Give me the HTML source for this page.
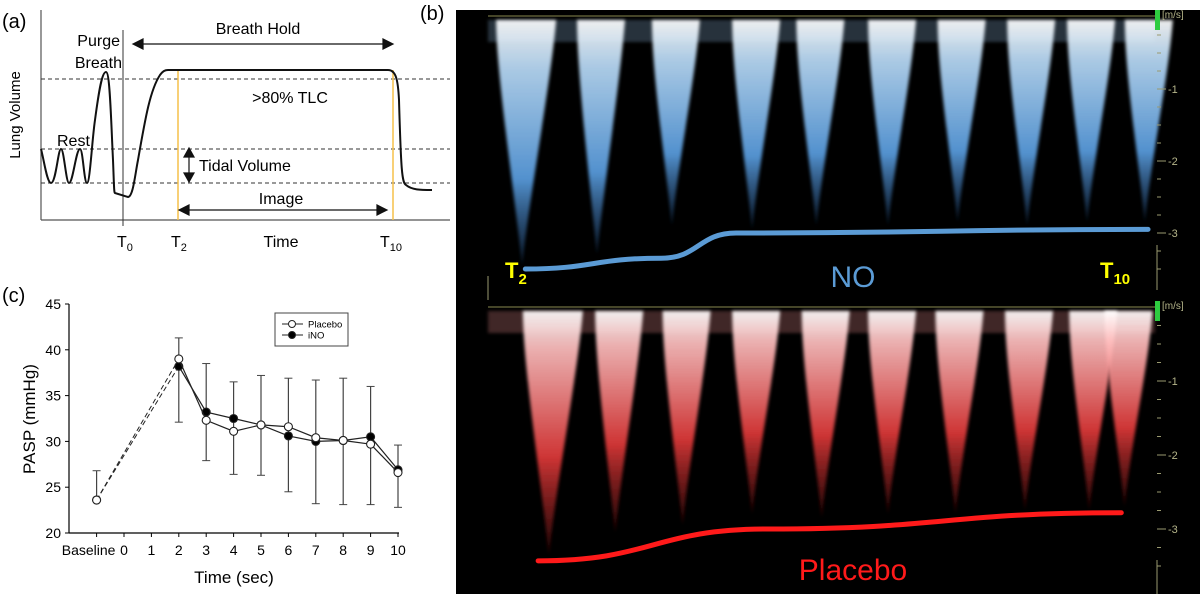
<!DOCTYPE html>
<html><head><meta charset="utf-8"><style>
html,body{margin:0;padding:0;background:#fff;}
svg{display:block;font-family:"Liberation Sans",sans-serif;}
</style></head><body>
<svg id="fig" width="1200" height="594" viewBox="0 0 1200 594">
<defs>
<linearGradient id="gb" x1="0" y1="0" x2="0" y2="1">
<stop offset="0" stop-color="#ffffff"/><stop offset="0.2" stop-color="#b9dbf8"/><stop offset="0.65" stop-color="#5a9ee0"/><stop offset="1" stop-color="#1c3d66" stop-opacity="0.5"/></linearGradient>
<linearGradient id="gr" x1="0" y1="0" x2="0" y2="1">
<stop offset="0" stop-color="#ffffff"/><stop offset="0.15" stop-color="#ffc0c0"/><stop offset="0.6" stop-color="#e03a3a"/><stop offset="1" stop-color="#601010" stop-opacity="0.5"/></linearGradient>
<filter id="blur"><feGaussianBlur stdDeviation="1.5"/></filter>
</defs>

<g>
<text x="2" y="28" font-size="20">(a)</text>
<line x1="41" y1="10" x2="41" y2="220" stroke="#555" stroke-width="1.2"/>
<line x1="41" y1="220" x2="450" y2="220" stroke="#555" stroke-width="1.2"/>
<text transform="translate(20,115) rotate(-90)" text-anchor="middle" font-size="15">Lung Volume</text>
<g stroke="#333" stroke-dasharray="4,3" stroke-width="1">
<line x1="41" y1="79" x2="450" y2="79"/><line x1="41" y1="149" x2="450" y2="149"/><line x1="41" y1="183" x2="450" y2="183"/></g>
<line x1="178" y1="70" x2="178" y2="220" stroke="#f5c04a" stroke-width="1.5"/>
<line x1="393" y1="70" x2="393" y2="220" stroke="#f5c04a" stroke-width="1.5"/>
<line x1="123" y1="30" x2="123" y2="226" stroke="#333" stroke-width="1"/>
<path d="M41,149 C44,160 47,183 51,183 C56,183 58,149 61,149 C64,149 66,183 69,183 C73,183 76,149 80,149 C83,149 84,183 87,183 C90,183 92,140 95,120 C99,90 102,72 106,72 C110,72 111,120 113,160 C114,185 114,193 115,193 L128,197 C133,197 135,175 138,160 C145,120 150,90 160,75 C163,71 165,70 168,70 L388,70 C396,70 398,80 399,100 C401,170 402,183 406,185 C412,190 420,190 432,190" fill="none" stroke="#111" stroke-width="2"/>
<g stroke="#111" stroke-width="1.2" fill="#111">
<line x1="140" y1="44" x2="388" y2="44"/><path d="M133,44 l10,-5 v10z"/><path d="M393,44 l-10,-5 v10z"/></g>
<text x="258" y="34" text-anchor="middle" font-size="16">Breath Hold</text>
<text x="120" y="46" text-anchor="end" font-size="16">Purge</text>
<text x="122" y="68" text-anchor="end" font-size="16">Breath</text>
<text x="57" y="146" font-size="16">Rest</text>
<text x="290" y="103" text-anchor="middle" font-size="16">&gt;80% TLC</text>
<g stroke="#111" stroke-width="1.2" fill="#111">
<line x1="189" y1="154" x2="189" y2="176"/><path d="M189,148 l-5,9 h10z"/><path d="M189,182 l-5,-9 h10z"/></g>
<text x="199" y="171" font-size="16">Tidal Volume</text>
<g stroke="#111" stroke-width="1.2" fill="#111">
<line x1="185" y1="210" x2="382" y2="210"/><path d="M179,210 l10,-5 v10z"/><path d="M387,210 l-10,-5 v10z"/></g>
<text x="281" y="204" text-anchor="middle" font-size="16">Image</text>
<text x="117" y="247" font-size="16">T<tspan font-size="11" dy="4">0</tspan></text>
<text x="171" y="247" font-size="16">T<tspan font-size="11" dy="4">2</tspan></text>
<text x="281" y="247" text-anchor="middle" font-size="16">Time</text>
<text x="380" y="247" font-size="16">T<tspan font-size="11" dy="4">10</tspan></text>
</g>

<text x="420" y="20" font-size="20">(b)</text>
<text x="2" y="302" font-size="20">(c)</text>

<g>
<rect x="456" y="10" width="744" height="584" fill="#000"/>
<g id="doppler"></g>
</g>

<g id="chartc"></g>
</svg>
<script>
// ---- Panel (c) data ----
const categories = ["Baseline","0","1","2","3","4","5","6","7","8","9","10"];
const timePoints = [-1,2,3,4,5,6,7,8,9,10];
const placebo = [23.6,39.0,32.3,31.1,31.8,31.6,30.4,30.1,29.7,26.6];
const ino = [23.6,38.2,33.2,32.5,31.8,30.6,30.0,30.1,30.5,26.9];
const errUpper = [26.8,41.3,38.5,36.5,37.2,36.9,36.7,36.9,36.0,29.6];
const errLower = [23.6,32.1,27.9,26.4,26.3,24.5,23.2,23.1,23.1,22.8];
const yTicks = [20,25,30,35,40,45];

// ---- Panel (b) data ----
const noBeatTimes = [0.3,1.0,1.7,2.45,3.05,3.72,4.37,5.02,5.58,6.12];
const noBeatPeaks = [-3.45,-3.3,-2.9,-2.95,-2.9,-2.9,-2.85,-2.9,-2.85,-2.85];
const plBeatTimes = [0.55,1.17,1.8,2.45,3.1,3.72,4.35,5.0,5.6,5.93];
const plBeatPeaks = [-3.35,-3.05,-2.95,-2.8,-2.85,-2.8,-2.8,-2.75,-2.75,-2.7];
const noEnvT = [0.33,1.6,2.3,6.15];
const noEnvV = [-3.5,-3.35,-3.0,-2.95];
const plEnvT = [0.45,2.6,5.9];
const plEnvV = [-3.43,-3.0,-2.78];
const velTicks = [-1,-2,-3];

const NS = "http://www.w3.org/2000/svg";
function mk(tag, attrs, parent){const e=document.createElementNS(NS,tag);for(const k in attrs)e.setAttribute(k,attrs[k]);parent.appendChild(e);return e;}

(function(){
const g=document.getElementById('chartc');
const X=t=>124+t*27.4, Y=v=>533-(v-20)*9.16;
let e;
e=mk('line',{x1:69,y1:304,x2:69,y2:533,stroke:'#000','stroke-width':1.2},g);


e=mk('line',{x1:69,y1:533,x2:399,y2:533,stroke:'#000','stroke-width':1.2},g);


yTicks.forEach(v=>{
 mk('line',{x1:65,y1:Y(v),x2:69,y2:Y(v),stroke:'#000'},g);
 e=mk('text',{x:61,y:Y(v)+5,'text-anchor':'end','font-size':14},g);e.textContent=v;
 
 
});
categories.forEach((c,i)=>{
 const x=X(i-1);
 mk('line',{x1:x,y1:533,x2:x,y2:537,stroke:'#000'},g);
 e=mk('text',{x:c==="Baseline"?x-8:x,y:555,'text-anchor':'middle','font-size':14},g);e.textContent=c;
 
 
});
e=mk('text',{x:234,y:583,'text-anchor':'middle','font-size':17},g);e.textContent='Time (sec)';


e=mk('text',{transform:'translate(35,419) rotate(-90)','text-anchor':'middle','font-size':17},g);e.textContent='PASP (mmHg)';


timePoints.forEach((t,i)=>{
 const x=X(t);
 e=mk('line',{x1:x,y1:Y(errUpper[i]),x2:x,y2:Y(errLower[i]),stroke:'#444','stroke-width':1.2},g);
 
 
 mk('line',{x1:x-4,y1:Y(errUpper[i]),x2:x+4,y2:Y(errUpper[i]),stroke:'#444'},g);
 if(errLower[i]<Math.min(placebo[i],ino[i])) mk('line',{x1:x-4,y1:Y(errLower[i]),x2:x+4,y2:Y(errLower[i]),stroke:'#444'},g);
});
function series(vals,fill,name){
 e=mk('line',{x1:X(timePoints[0]),y1:Y(vals[0]),x2:X(timePoints[1]),y2:Y(vals[1]),stroke:'#222','stroke-dasharray':'5,3','stroke-width':1},g);
 
 
 let d='';for(let i=1;i<vals.length;i++)d+=(i===1?'M':'L')+X(timePoints[i])+','+Y(vals[i]);
 e=mk('path',{d:d,fill:'none',stroke:'#222','stroke-width':1.2},g);
 
 
 vals.forEach((v,i)=>{
  e=mk('circle',{cx:X(timePoints[i]),cy:Y(v),r:4,fill:fill,stroke:'#222','stroke-width':1.1},g);
  
  
 });
}
series(ino,'#000','ino');
series(placebo,'#fff','placebo');
e=mk('rect',{x:275,y:313,width:73,height:33,fill:'#fff',stroke:'#444'},g);


[['Placebo','#fff',324],['iNO','#000',335]].forEach(([n,f,y])=>{
 mk('line',{x1:282,y1:y,x2:303,y2:y,stroke:'#222'},g);
 e=mk('circle',{cx:292,cy:y,r:3.5,fill:f,stroke:'#222'},g);
 
 
 e=mk('text',{x:308,y:y+3.5,'font-size':9.5},g);e.textContent=n;
 
 
});
})();

(function(){
const g=document.getElementById('doppler');
const X=t=>490+t*107;
const Yb=v=>17-v*72, Yr=v=>307-v*74;
let e;
function strip(times,peaks,Yf,grad,top,bandColor,name){
 e=mk('rect',{x:488,y:top+6,width:667,height:22,fill:bandColor,opacity:0.25,filter:'url(#blur)'},g);
 
 
 times.forEach((t,i)=>{
  const x=X(t), yt=Yf(peaks[i]), w=i===0?26:20;
  const d=`M${x-w},${top+6} C${x-w},${top+60} ${x-6},${yt-60} ${x},${yt} C${x+6},${yt-60} ${x+w+4},${top+60} ${x+w+8},${top+6}Z`;
  e=mk('path',{d:d,fill:'url(#'+grad+')',filter:'url(#blur)',opacity:0.92},g);
  
  
 });
 mk('line',{x1:488,y1:top+2,x2:1155,y2:top+2,stroke:'#8a8a50','stroke-width':1},g);
 mk('rect',{x:1155,y:top-4,width:5,height:20,fill:'#2ecc40'},g);
 e=mk('text',{x:1162,y:top+4,'font-size':10,fill:'#b5b58a'},g);e.textContent='[m/s]';
 
 
 for(let k=1;k<=14;k++){const v=-k*0.25;mk('line',{x1:1157,y1:Yf(v),x2:k%4===0?1166:1161,y2:Yf(v),stroke:'#9a9a70'},g);}
 velTicks.forEach(v=>{
  mk('line',{x1:1157,y1:Yf(v),x2:1166,y2:Yf(v),stroke:'#9a9a70'},g);
  e=mk('text',{x:1168,y:Yf(v)+4,'font-size':11,fill:'#b5b58a'},g);e.textContent=v;
  
  
 });
}
strip(noBeatTimes,noBeatPeaks,Yb,'gb',14,'#9cc8f0','no');
strip(plBeatTimes,plBeatPeaks,Yr,'gr',305,'#ff9a9a','placebo');
mk('line',{x1:488,y1:276,x2:488,y2:300,stroke:'#9a9a70'},g);
mk('line',{x1:1157,y1:245,x2:1157,y2:290,stroke:'#9a9a70'},g);
mk('line',{x1:1157,y1:560,x2:1157,y2:594,stroke:'#9a9a70'},g);
function env(ts,vs,Yf,col,name){
 let d='M'+X(ts[0])+','+Yf(vs[0]);
 for(let i=1;i<ts.length;i++){const x0=X(ts[i-1]),x1=X(ts[i]),y0=Yf(vs[i-1]),y1=Yf(vs[i]);d+=` C${(x0+x1)/2},${y0} ${(x0+x1)/2},${y1} ${x1},${y1}`;}
 e=mk('path',{d:d,fill:'none',stroke:col,'stroke-width':5,'stroke-linecap':'round'},g);
 
 
}
env(noEnvT,noEnvV,Yb,'#5b9bd5','no');
env(plEnvT,plEnvV,Yr,'#ff1a1a','placebo');
e=mk('text',{x:505,y:278,'font-size':22,'font-weight':'bold',fill:'#ffff00'},g);e.innerHTML='T<tspan font-size="15" dy="6">2</tspan>';


e=mk('text',{x:1100,y:278,'font-size':22,'font-weight':'bold',fill:'#ffff00'},g);e.innerHTML='T<tspan font-size="15" dy="6">10</tspan>';


e=mk('text',{x:853,y:287,'font-size':30,fill:'#5b9bd5','text-anchor':'middle'},g);e.textContent='NO';


e=mk('text',{x:853,y:580,'font-size':30,fill:'#ff1a1a','text-anchor':'middle'},g);e.textContent='Placebo';


})();
</script>
</body></html>
